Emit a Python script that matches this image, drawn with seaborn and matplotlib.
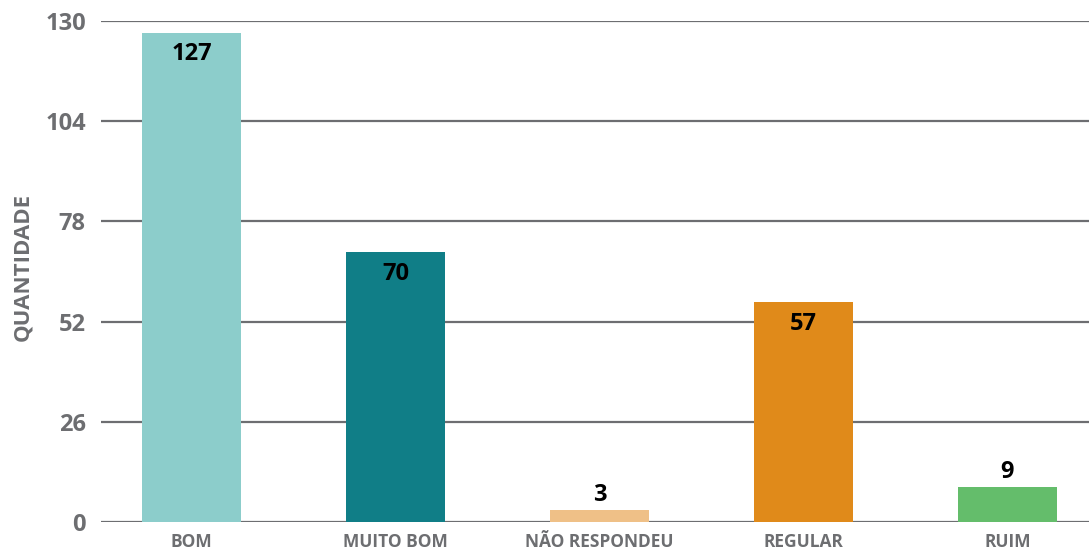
import pandas as pd
import matplotlib.pyplot as plt
import seaborn as sns

# dados
categorias = ['BOM', 'MUITO BOM', 'NÃO RESPONDEU', 'REGULAR', 'RUIM']
quantidade = [127, 70, 3, 57, 9]
cores = ['#8ccdcb', '#107e87', '#efc087', '#e08a1a', '#64bd6b']
yticks = [0, 26, 52, 78, 104, 130]

df = pd.DataFrame({'categoria': categorias, 'quantidade': quantidade})

sns.set_style('white')
plt.rcParams['font.family'] = ['Open Sans', 'DejaVu Sans']
cinza = '#6d6e71'

fig = plt.figure(figsize=(10.89, 5.53), dpi=100)
ax = fig.add_axes([101 / 1089, 31 / 553, 1 - 101 / 1089, 501 / 553])

sns.barplot(x='categoria', y='quantidade', data=df, hue='categoria',
            palette=cores, legend=False, width=0.485, saturation=1,
            linewidth=0, ax=ax, zorder=3)

ax.set_ylim(0, 130)
ax.set_xlim(-0.444, 4.40)
ax.set_yticks(yticks)
ax.set_yticklabels([str(v) for v in yticks], fontsize=17, fontweight='bold', color=cinza)
ax.set_xticks(range(len(categorias)))
ax.set_xticklabels(categorias, fontsize=12.5, fontweight='bold', color=cinza)
ax.tick_params(axis='y', length=0, pad=11)
ax.tick_params(axis='x', length=0, pad=8)
ax.yaxis.grid(True, color=cinza, linewidth=1.6, zorder=0)
ax.set_axisbelow(True)
for s in ax.spines.values():
    s.set_visible(False)

ax.set_xlabel('')
ax.set_ylabel('QUANTIDADE', fontsize=16, fontweight='bold', color=cinza)
ax.yaxis.set_label_coords(-0.069, 0.51)

# rótulos de valor
for i, v in enumerate(quantidade):
    if v > 20:
        ax.text(i, v - 5.6, str(v), ha='center', va='center', fontsize=17,
                fontweight='bold', color='black', zorder=4)
    else:
        ax.text(i, v + 0.9, str(v), ha='center', va='bottom', fontsize=17,
                fontweight='bold', color='black', zorder=4)

fig.savefig('out.png', dpi=100)
